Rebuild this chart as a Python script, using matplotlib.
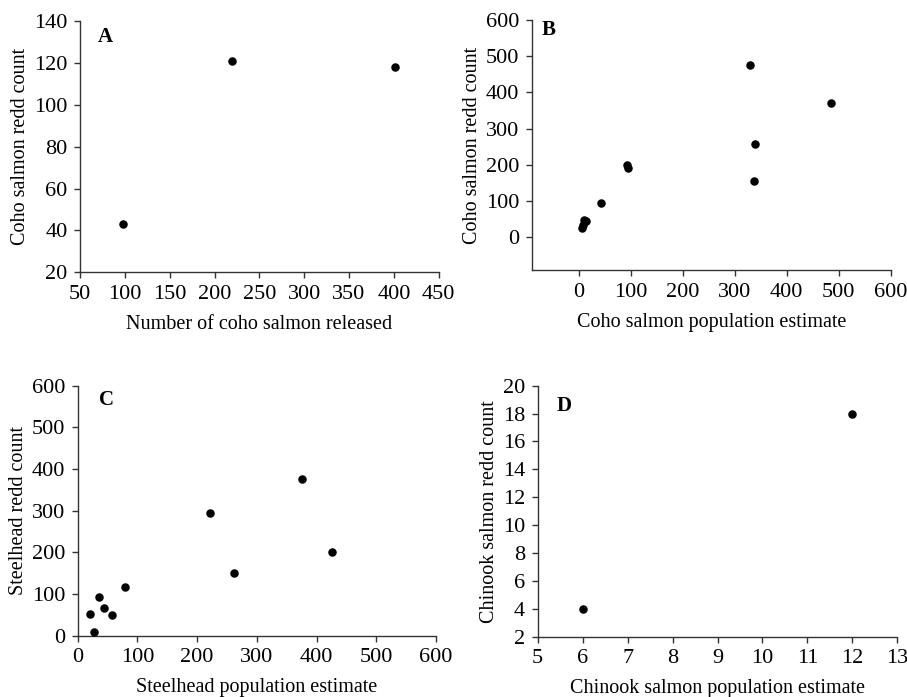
import matplotlib
matplotlib.use("Agg")
import matplotlib.pyplot as plt

plt.rcParams['font.family'] = ['Liberation Serif', 'DejaVu Serif']

# Panel A
a_x = [98, 220, 401]
a_y = [43, 121, 118]
# Panel B
b_x = [6, 8, 10, 13, 42, 92, 95, 330, 339, 337, 486]
b_y = [26, 35, 47, 44, 95, 200, 191, 475, 258, 157, 370]
# Panel C
c_x = [20, 27, 35, 44, 58, 80, 222, 261, 376, 426]
c_y = [52, 10, 92, 66, 50, 118, 295, 150, 376, 202]
# Panel D
d_x = [6, 12]
d_y = [4, 18]

W, H = 907, 697
fig = plt.figure(figsize=(W / 100, H / 100), dpi=100)

def make_ax(left, top, right, bottom):
    return fig.add_axes([left / W, 1 - bottom / H, (right - left) / W, (bottom - top) / H])

panels = [
    dict(box=(80, 21, 438.7, 272.3), x=a_x, y=a_y, xlim=(50, 450), ylim=(20, 140),
         xt=range(50, 451, 50), yt=range(20, 141, 20),
         xl="Number of coho salmon released", yl="Coho salmon redd count",
         letter="A", lpos=(0.072, 0.935)),
    dict(box=(532, 20, 890.7, 270), x=b_x, y=b_y, xlim=(-90, 600), ylim=(-90, 600),
         xt=range(0, 601, 100), yt=range(0, 601, 100),
         xl="Coho salmon population estimate", yl="Coho salmon redd count",
         letter="B", lpos=(0.047, 0.962)),
    dict(box=(77.7, 385.7, 436, 635.7), x=c_x, y=c_y, xlim=(0, 600), ylim=(0, 600),
         xt=range(0, 601, 100), yt=range(0, 601, 100),
         xl="Steelhead population estimate", yl="Steelhead redd count",
         letter="C", lpos=(0.081, 0.943)),
    dict(box=(537.7, 385.7, 897.3, 636.7), x=d_x, y=d_y, xlim=(5, 13), ylim=(2, 20),
         xt=range(5, 14), yt=range(2, 21, 2),
         xl="Chinook salmon population estimate", yl="Chinook salmon redd count",
         letter="D", lpos=(0.074, 0.92)),
]

for p in panels:
    ax = make_ax(*p['box'])
    ax.scatter(p['x'], p['y'], s=26, color='black', zorder=3, clip_on=False)
    ax.set_xlim(*p['xlim'])
    ax.set_ylim(*p['ylim'])
    ax.set_xticks(list(p['xt']))
    ax.set_yticks(list(p['yt']))
    for s in ['top', 'right']:
        ax.spines[s].set_visible(False)
    for s in ['left', 'bottom']:
        ax.spines[s].set_linewidth(1.0)
        ax.spines[s].set_color('#333333')
    ax.tick_params(direction='out', length=4, width=1.0, labelsize=16, pad=5, colors='#333333', labelcolor='black')
    ax.set_xlabel(p['xl'], fontsize=14.5, labelpad=8)
    ax.set_ylabel(p['yl'], fontsize=14.5, labelpad=3)
    ax.text(p['lpos'][0], p['lpos'][1], p['letter'], transform=ax.transAxes,
            fontsize=15, fontweight='bold', ha='center', va='center')

fig.savefig("out.png", dpi=100)
